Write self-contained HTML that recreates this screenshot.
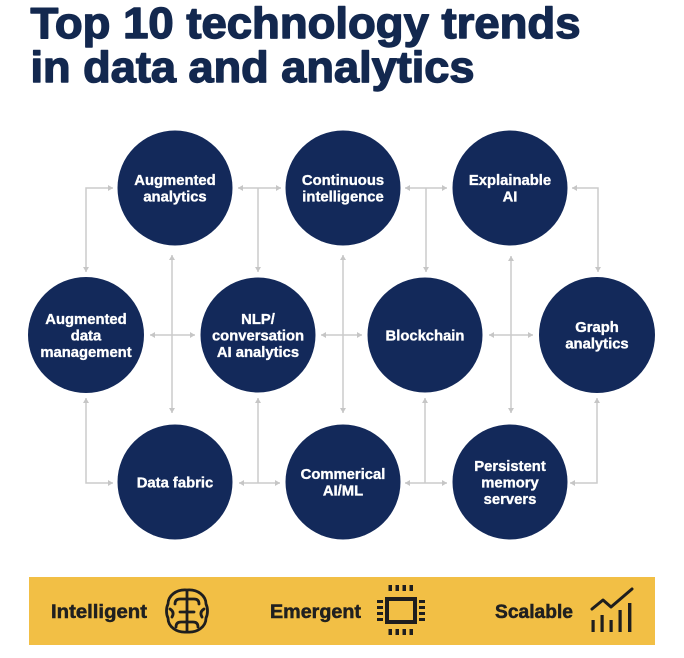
<!DOCTYPE html>
<html>
<head>
<meta charset="utf-8">
<style>
  html,body{margin:0;padding:0;background:#fff;}
  body{width:684px;height:658px;overflow:hidden;}
  svg{display:block;}
  .t{font-family:"Liberation Sans",Arial,sans-serif;font-weight:bold;}
</style>
</head>
<body>
<svg width="684" height="658" viewBox="0 0 684 658" xmlns="http://www.w3.org/2000/svg">
  <rect width="684" height="658" fill="#ffffff"/>

  <!-- Title -->
  <g class="t" fill="#13284f" stroke="#13284f" stroke-width="1.4" stroke-linejoin="round" font-size="43.5">
    <text x="30.5" y="38" textLength="550" lengthAdjust="spacingAndGlyphs">Top 10 technology trends</text>
    <text x="30.5" y="82" textLength="444" lengthAdjust="spacingAndGlyphs">in data and analytics</text>
  </g>

  <!-- Connectors -->
  <g fill="none" stroke="#cbcbcb" stroke-width="1.5">
    <path d="M113 188 H86 V272"/>
    <path d="M238 188 H281 M258 188 V272"/>
    <path d="M405 188 H447 M426 188 V272"/>
    <path d="M572 188 H598 V272"/>
    <path d="M150 335 H195"/>
    <path d="M321 335 H362"/>
    <path d="M489 335 H533"/>
    <path d="M172 255 V413"/>
    <path d="M343 255 V413"/>
    <path d="M511 256 V413"/>
    <path d="M86 398 V483 H113"/>
    <path d="M258 398 V483 M239 483 H280"/>
    <path d="M425 398 V483 M405 483 H447"/>
    <path d="M597 398 V483 H570"/>
  </g>
  <g fill="#c6c6c6">
    <polygon points="113,188 108,185 108,191"/>
    <polygon points="281,188 276,185 276,191"/>
    <polygon points="447,188 442,185 442,191"/>
    <polygon points="195,335 190,332 190,338"/>
    <polygon points="362,335 357,332 357,338"/>
    <polygon points="533,335 528,332 528,338"/>
    <polygon points="113,483 108,480 108,486"/>
    <polygon points="280,483 275,480 275,486"/>
    <polygon points="447,483 442,480 442,486"/>
    <polygon points="238,188 243,185 243,191"/>
    <polygon points="405,188 410,185 410,191"/>
    <polygon points="572,188 577,185 577,191"/>
    <polygon points="150,335 155,332 155,338"/>
    <polygon points="321,335 326,332 326,338"/>
    <polygon points="489,335 494,332 494,338"/>
    <polygon points="239,483 244,480 244,486"/>
    <polygon points="405,483 410,480 410,486"/>
    <polygon points="570,483 575,480 575,486"/>
    <polygon points="86,272 83,267 89,267"/>
    <polygon points="258,272 255,267 261,267"/>
    <polygon points="426,272 423,267 429,267"/>
    <polygon points="598,272 595,267 601,267"/>
    <polygon points="172,413 169,408 175,408"/>
    <polygon points="343,413 340,408 346,408"/>
    <polygon points="511,413 508,408 514,408"/>
    <polygon points="172,255 169,260 175,260"/>
    <polygon points="343,255 340,260 346,260"/>
    <polygon points="511,256 508,261 514,261"/>
    <polygon points="86,398 83,403 89,403"/>
    <polygon points="258,398 255,403 261,403"/>
    <polygon points="425,398 422,403 428,403"/>
    <polygon points="597,398 594,403 600,403"/>
  </g>

  <!-- Circles -->
  <g fill="#13295a">
    <circle cx="175" cy="188" r="57.5"/>
    <circle cx="343" cy="188" r="57.5"/>
    <circle cx="510" cy="188" r="57.5"/>
    <circle cx="86" cy="335" r="58"/>
    <circle cx="258" cy="335" r="57.5"/>
    <circle cx="425" cy="335" r="57.5"/>
    <circle cx="597" cy="335" r="58"/>
    <circle cx="175" cy="482" r="57.5"/>
    <circle cx="343" cy="482" r="57.5"/>
    <circle cx="510" cy="482" r="57.5"/>
  </g>

  <!-- Circle labels -->
  <g class="t" fill="#ffffff" stroke="#ffffff" stroke-width="0.35" font-size="14.8" text-anchor="middle">
    <text x="175" y="185">Augmented</text>
    <text x="175" y="201.5">analytics</text>

    <text x="343" y="185">Continuous</text>
    <text x="343" y="201.5">intelligence</text>

    <text x="510" y="185">Explainable</text>
    <text x="510" y="201.5">AI</text>

    <text x="86" y="324">Augmented</text>
    <text x="86" y="340.5">data</text>
    <text x="86" y="357">management</text>

    <text x="258" y="324">NLP/</text>
    <text x="258" y="340.5">conversation</text>
    <text x="258" y="357">AI analytics</text>

    <text x="425" y="340.5">Blockchain</text>

    <text x="597" y="332">Graph</text>
    <text x="597" y="348.5">analytics</text>

    <text x="175" y="487.5">Data fabric</text>

    <text x="343" y="479">Commerical</text>
    <text x="343" y="495.5">AI/ML</text>

    <text x="510" y="471">Persistent</text>
    <text x="510" y="487.5">memory</text>
    <text x="510" y="504">servers</text>
  </g>

  <!-- Yellow bar -->
  <rect x="29" y="577" width="626" height="68" fill="#f2bf45"/>

  <g class="t" fill="#202020" stroke="#202020" stroke-width="0.5" font-size="19.5">
    <text x="51" y="618" textLength="96" lengthAdjust="spacingAndGlyphs">Intelligent</text>
    <text x="270" y="618" textLength="91" lengthAdjust="spacingAndGlyphs">Emergent</text>
    <text x="495" y="618" textLength="78" lengthAdjust="spacingAndGlyphs">Scalable</text>
  </g>

  <!-- Brain icon -->
  <g fill="none" stroke="#1e1e1e" stroke-width="2.8" stroke-linecap="round" stroke-linejoin="round">
    <path d="M187 590 C176 589 168 596 168 604 C166 608 166 614 168 618 C168 627 177 633 187 632 C197 633 206 627 206 618 C208 614 208 608 206 604 C206 596 198 589 187 590 Z"/>
    <path d="M187 591 V631"/>
    <path d="M187 599 H180 Q175 599 175 604"/>
    <path d="M170 609 Q175 612 172 617"/>
    <path d="M187 612 H180"/>
    <path d="M187 622 H181 Q176 622 176 627"/>
    <path d="M187 599 H194 Q199 599 199 604"/>
    <path d="M204 609 Q199 612 202 617"/>
    <path d="M187 612 H194"/>
    <path d="M187 622 H193 Q198 622 198 627"/>
  </g>

  <!-- Chip icon -->
  <g fill="#1e1e1e">
    <rect x="387" y="599" width="28" height="23" fill="none" stroke="#1e1e1e" stroke-width="4"/>
    <rect x="388.5" y="585" width="3.5" height="6"/>
    <rect x="395.5" y="585" width="3.5" height="6"/>
    <rect x="402.5" y="585" width="3.5" height="6"/>
    <rect x="409.5" y="585" width="3.5" height="6"/>
    <rect x="388.5" y="629" width="3.5" height="6"/>
    <rect x="395.5" y="629" width="3.5" height="6"/>
    <rect x="402.5" y="629" width="3.5" height="6"/>
    <rect x="409.5" y="629" width="3.5" height="6"/>
    <rect x="377" y="600" width="6" height="3"/>
    <rect x="377" y="606" width="6" height="3"/>
    <rect x="377" y="612" width="6" height="3"/>
    <rect x="377" y="618" width="6" height="3"/>
    <rect x="419" y="600" width="6" height="3"/>
    <rect x="419" y="606" width="6" height="3"/>
    <rect x="419" y="612" width="6" height="3"/>
    <rect x="419" y="618" width="6" height="3"/>
  </g>

  <!-- Chart icon -->
  <g fill="#1e1e1e">
    <rect x="591.5" y="620" width="3.2" height="12"/>
    <rect x="600.5" y="615" width="3.2" height="17"/>
    <rect x="609.5" y="620" width="3.2" height="12"/>
    <rect x="618.5" y="610" width="3.2" height="22"/>
    <rect x="628" y="603" width="3.4" height="29"/>
  </g>
  <path d="M592 609 L603 600 L611 607 L632 589" fill="none" stroke="#1e1e1e" stroke-width="3" stroke-linecap="round" stroke-linejoin="round"/>
</svg>
</body>
</html>
